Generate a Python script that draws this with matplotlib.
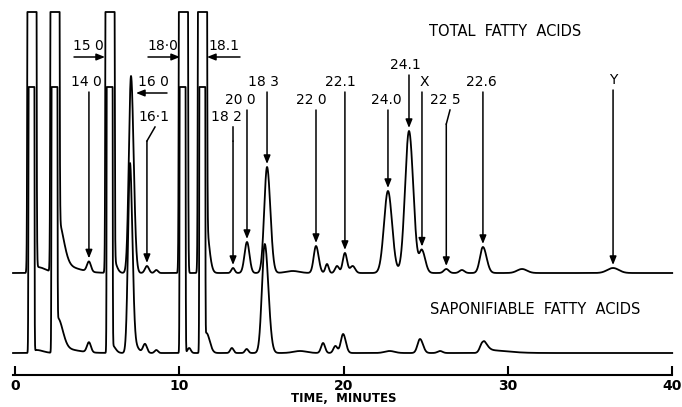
import numpy as np
import matplotlib.pyplot as plt

# --- chromatogram data ---
# peak retention time (min), height (chart units above baseline), left / right width (min)
total_rt = [1.03, 1.35, 2.43, 2.62, 2.70, 4.50, 5.78, 5.95, 7.06, 8.03, 8.60,
            10.25, 11.41, 11.60, 13.27, 14.12, 15.34, 16.90, 18.32, 18.99, 19.60,
            20.08, 20.55, 22.70, 23.98, 24.77, 26.25, 27.20, 28.48, 30.86, 36.40]
total_h = [1e6, 6, 1e6, 44, 8, 10, 1e6, 15, 197, 7, 3,
           1e6, 1e6, 50, 5, 31, 106, 2, 27, 9, 7,
           20, 7, 82, 142, 22, 4, 3, 26, 4, 5]
total_wl = [0.07, 0.10, 0.07, 0.05, 0.10, 0.12, 0.07, 0.05, 0.13, 0.12, 0.10,
            0.07, 0.07, 0.05, 0.10, 0.15, 0.17, 0.40, 0.14, 0.10, 0.12,
            0.13, 0.15, 0.24, 0.24, 0.15, 0.15, 0.15, 0.18, 0.30, 0.35]
total_wr = [0.07, 0.50, 0.07, 0.33, 1.00, 0.12, 0.07, 0.20, 0.16, 0.12, 0.10,
            0.07, 0.07, 0.20, 0.10, 0.15, 0.20, 0.40, 0.16, 0.10, 0.12,
            0.13, 0.15, 0.25, 0.26, 0.20, 0.15, 0.15, 0.22, 0.30, 0.35]

sapon_rt = [1.00, 1.30, 2.40, 2.60, 2.60, 4.50, 5.76, 5.90, 7.00, 7.20, 7.91, 8.60,
            10.20, 10.60, 11.40, 11.65, 13.20, 14.10, 15.20, 17.35, 18.75, 19.50,
            19.97, 22.80, 24.65, 25.87, 28.45, 28.60]
sapon_h = [1e6, 3, 1e6, 30, 5, 10, 1e6, 8, 190, 10, 9, 3,
           1e6, 5, 1e6, 20, 5, 4, 109, 2, 10, 7,
           19, 2, 14, 2, 10, 3]
sapon_wl = [0.045, 0.10, 0.045, 0.05, 0.10, 0.12, 0.045, 0.05, 0.12, 0.05, 0.12, 0.10,
            0.045, 0.10, 0.045, 0.05, 0.10, 0.10, 0.17, 0.40, 0.12, 0.12,
            0.14, 0.30, 0.15, 0.15, 0.15, 0.10]
sapon_wr = [0.045, 0.40, 0.045, 0.30, 1.00, 0.12, 0.045, 0.20, 0.14, 0.25, 0.12, 0.10,
            0.045, 0.10, 0.045, 0.20, 0.10, 0.10, 0.22, 0.40, 0.12, 0.12,
            0.16, 0.30, 0.18, 0.15, 0.25, 1.20]

time_ticks = [0, 10, 20, 30, 40]

# peak labels on the total trace: label, retention time it points at
vert_labels = ["14 0", "20 0", "18 3", "22 0", "22.1", "24.0", "24.1", "X", "22.6", "Y"]
vert_rt = [4.50, 14.12, 15.34, 18.32, 20.08, 22.70, 23.98, 24.77, 28.48, 36.40]
kink_labels = ["16\u00b71", "18 2", "22 5"]
kink_rt = [8.03, 13.27, 26.25]
side_labels = ["15 0", "18\u00b70", "18.1", "16 0"]

# --- layout (pixel positions of the 682x407 figure) ---
W, H = 682, 407
X0, PX_PER_MIN = 15, 16.43
BASE_BOTTOM = 353         # pixel row of the saponifiable baseline
OFFSET_TOTAL = 80         # total trace sits this much higher
CLIP_TOTAL = 341          # recorder pen limits
CLIP_SAPON = 266


def tx(px):
    return (px - X0) / PX_PER_MIN


def ty(py):
    return BASE_BOTTOM - py


def trace(t, rt, h, wl, wr):
    y = np.zeros_like(t)
    for c, a, sl, sr in zip(rt, h, wl, wr):
        s = np.where(t < c, sl, sr)
        y += a * np.exp(-0.5 * ((t - c) / s) ** 2)
    return y


t = np.linspace(-0.12, 40.0, 16000)
y_total = np.minimum(trace(t, total_rt, total_h, total_wl, total_wr) + OFFSET_TOTAL, CLIP_TOTAL)
y_sapon = np.minimum(trace(t, sapon_rt, sapon_h, sapon_wl, sapon_wr), CLIP_SAPON)

fig = plt.figure(figsize=(W / 100, H / 100), dpi=100)
ax = fig.add_axes([0, 0, 1, 1])
ax.set_xlim(tx(0), tx(W))
ax.set_ylim(ty(H), ty(0))
ax.axis("off")

ax.plot(t, y_total, color="black", lw=1.3, solid_joinstyle="round")
ax.plot(t, y_sapon, color="black", lw=1.3, solid_joinstyle="round")

# time axis
ax.plot([tx(13), time_ticks[-1]], [ty(375), ty(375)], color="black", lw=1.5)
ax.vlines(time_ticks, ty(375), ty(366), color="black", lw=1.5)
for tk in time_ticks:
    ax.text(tk, ty(386), str(tk), ha="center", va="center", fontsize=10, fontweight="bold")
ax.text(tx(344), ty(398), "TIME,  MINUTES", ha="center", va="center", fontsize=8.5,
        fontweight="bold")

ax.text(tx(505), ty(31), "TOTAL  FATTY  ACIDS", ha="center", va="center", fontsize=10.5)
ax.text(tx(535), ty(310), "SAPONIFIABLE  FATTY  ACIDS", ha="center", va="center", fontsize=10.5)

arrow = dict(arrowstyle="-|>,head_length=0.5,head_width=0.2", color="black", lw=1.1,
             shrinkA=0, shrinkB=0)
fs = 10


def top_at(rt):
    return np.interp(rt, t, y_total)


# vertical arrows: text centre (px) and arrow start row (px)
vert_text = [(86, 82), (240, 100), (263, 82), (311, 100), (340, 82), (386, 100),
             (405, 65), (424, 82), (481, 82), (613, 80)]
for lab, rt, (px, py) in zip(vert_labels, vert_rt, vert_text):
    ax.text(tx(px), ty(py), lab, ha="center", va="center", fontsize=fs)
    ax.annotate("", xy=(rt, top_at(rt) + 3), xytext=(rt, ty(py + 10)), arrowprops=arrow)

# arrows with a kink under the label
kink_text = [(154, 117, 155), (226, 117, 233), (445, 100, 450)]
for lab, rt, (px, py, sx) in zip(kink_labels, kink_rt, kink_text):
    ax.text(tx(px), ty(py), lab, ha="center", va="center", fontsize=fs)
    ax.plot([tx(sx), rt], [ty(py + 10), ty(py + 24)], color="black", lw=1.1)
    ax.annotate("", xy=(rt, top_at(rt) + 3), xytext=(rt, ty(py + 24)), arrowprops=arrow)

# horizontal arrows pointing at the clipped peaks
side_text = [(88, 46, 74, 105), (163, 46, 148, 180), (224, 46, 240, 207), (153, 82, 167, 136)]
for lab, (px, py, x_from, x_to) in zip(side_labels, side_text):
    ax.text(tx(px), ty(py), lab, ha="center", va="center", fontsize=fs)
    ax.annotate("", xy=(tx(x_to), ty(py + 11)), xytext=(tx(x_from), ty(py + 11)),
                arrowprops=arrow)

plt.savefig("out.png", dpi=100)
